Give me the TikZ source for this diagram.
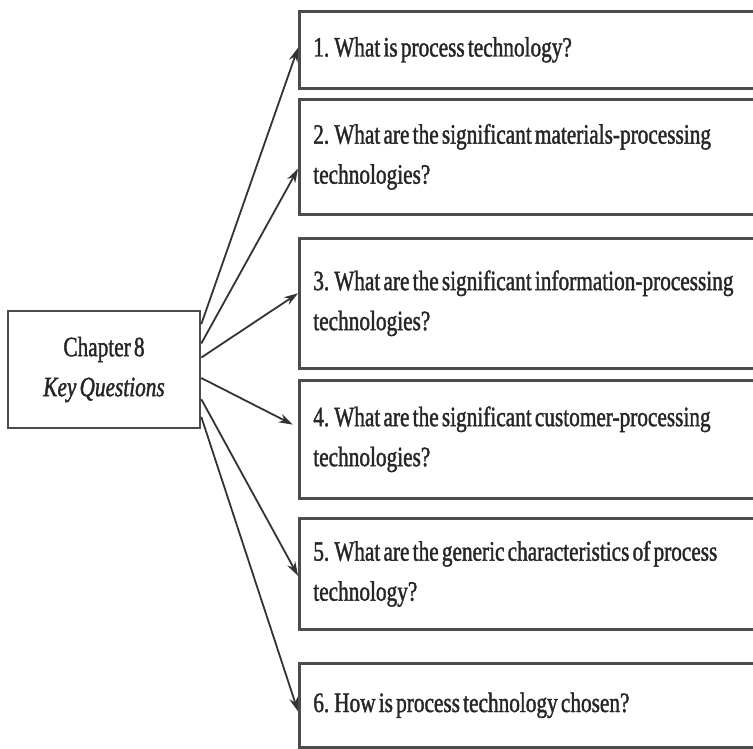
\documentclass[tikz,border=0pt]{standalone}
\usepackage{fontspec}
\newfontfamily\qfont[FakeStretch=0.76,WordSpace=0.6,FakeBold=1.4]{Liberation Serif}
\usetikzlibrary{arrows.meta}

\begin{document}
\begin{tikzpicture}[x=0.5pt,y=-0.5pt]
    \tikzstyle{box}=[draw=black!70,line width=1.3pt,font=\qfont\fontsize{14}{20}\selectfont,text=black!85]
    \tikzstyle{question}=[box,anchor=north west,minimum width=235pt,text width=221pt,inner xsep=7pt,align=left,
      execute at begin node={\spaceskip=0pt\xspaceskip=0pt}]
    \tikzstyle{link}=[-{Stealth[length=7pt,width=4.5pt]},line width=0.9pt,draw=black!80]
    \clip (0,0) rectangle (753,748);
    \node[box,minimum width=96pt,minimum height=58.5pt,align=center] (kq) at (104,369.5) {Chapter 8\\\textit{Key Questions}};
    \node[question,minimum height=38.5pt] (q1) at (298,10) {1. What is process technology?};
    \node[question,minimum height=57.5pt] (q2) at (298,98) {2. What are the significant materials-processing\\technologies?};
    \node[question,minimum height=65pt] (q3) at (298,237) {3. What are the significant information-processing\\technologies?};
    \node[question,minimum height=59pt] (q4) at (298,379) {4. What are the significant customer-processing\\technologies?};
    \node[question,minimum height=55.5pt] (q5) at (298,517) {5. What are the generic characteristics of process\\technology?};
    \node[question,minimum height=42pt] (q6) at (298,662) {6. How is process technology chosen?};
    \draw[link] (kq.25) -- ([yshift=1pt]q1.west);
    \draw[link] (kq.15) -- ([yshift=-6pt]q2.west);
    \draw[link] (kq.7) -- ([yshift=5pt]q3.west);
    \draw[link,shorten >=3pt] (kq.-5) -- ([yshift=6pt]q4.west);
    \draw[link] (kq.-17) -- ([yshift=-1pt]q5.west);
    \draw[link] (kq.-26) -- ([yshift=-3pt]q6.west);
\end{tikzpicture}
\end{document}
